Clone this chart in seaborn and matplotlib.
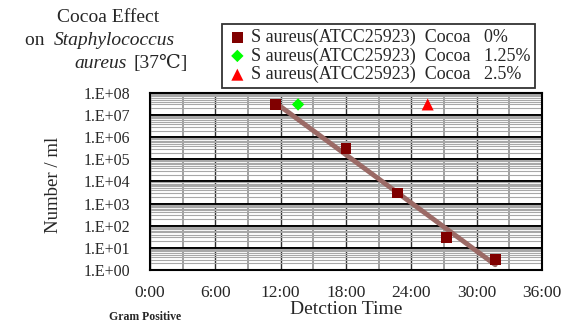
import seaborn as sns
import matplotlib.pyplot as plt
import pandas as pd
import numpy as np
from matplotlib.ticker import FixedLocator, LogLocator, NullFormatter

# detection time (hours) and counts per ml
hours_0 = [11.5, 18.0, 22.7, 27.2, 31.7]
count_0 = [3e7, 3e5, 3e3, 3e1, 3e0]
hours_125 = [13.6]
count_125 = [3e7]
hours_25 = [25.5]
count_25 = [3e7]

labels = ["S aureus(ATCC25923)  Cocoa   0%",
          "S aureus(ATCC25923)  Cocoa   1.25%",
          "S aureus(ATCC25923)  Cocoa   2.5%"]
x_ticks = [0, 6, 12, 18, 24, 30, 36]
x_ticklabels = ["0:00", "6:00", "12:00", "18:00", "24:00", "30:00", "36:00"]
y_ticks = [10.0 ** k for k in range(0, 9)]
y_ticklabels = ["1.E+%02d" % k for k in range(0, 9)]

sns.set_style("white")
plt.rcParams['font.family'] = ['Liberation Serif', 'DejaVu Serif']

fig = plt.figure(figsize=(5.7, 3.27), dpi=100)
ax = fig.add_axes([0.263, 0.174, 0.688, 0.542])
ax.set_yscale("log")

# trend line (exponential fit)
coef = np.polyfit(hours_0, np.log10(count_0), 1)
xs = np.array([hours_0[0], hours_0[-1]])
trend = pd.DataFrame({"x": xs, "y": 10 ** np.polyval(coef, xs)})
sns.lineplot(data=trend, x="x", y="y", ax=ax, color="#9b6a66", lw=3.5, zorder=3)

sns.scatterplot(x=hours_0, y=count_0, ax=ax, marker="s", color="#800000",
                s=60, edgecolor="none", label=labels[0], zorder=4)
sns.scatterplot(x=hours_125, y=count_125, ax=ax, marker="D", color="#00ff00",
                s=40, edgecolor="none", label=labels[1], zorder=4)
sns.scatterplot(x=hours_25, y=count_25, ax=ax, marker="^", color="#ff0000",
                s=75, edgecolor="none", label=labels[2], zorder=4)

ax.set_xlim(0, 36)
ax.set_ylim(1, 1e8)
ax.set_xticks(x_ticks)
ax.set_xticklabels(x_ticklabels, fontsize=12.5)
ax.set_yticks(y_ticks)
ax.set_yticklabels(y_ticklabels, fontsize=11.5)
ax.yaxis.set_minor_locator(LogLocator(base=10, subs=np.arange(2, 10), numticks=100))
ax.yaxis.set_minor_formatter(NullFormatter())
ax.xaxis.set_minor_locator(FixedLocator(np.arange(3, 36, 6)))
ax.tick_params(axis="both", which="both", length=0)
ax.tick_params(axis="y", pad=14)
ax.tick_params(axis="x", pad=11)

ax.grid(True, which="major", axis="y", color="black", lw=1.4)
ax.grid(True, which="minor", axis="y", color="#a8a8a8", lw=0.8)
ax.grid(True, which="major", axis="x", color="#303030", lw=1.0)
ax.grid(True, which="minor", axis="x", color="#909090", lw=1.2)
ax.set_axisbelow(True)
for s in ax.spines.values():
    s.set_color("black")
    s.set_linewidth(1.5)

ax.set_xlabel("Detction Time", fontsize=14, labelpad=0)
ax.set_ylabel("")
fig.text(0.094, 0.434, "Number / ml", rotation=90, fontsize=13.5,
         ha="center", va="center")

leg = ax.legend(loc="lower left", bbox_to_anchor=(222 / 570, 239 / 327),
                bbox_transform=fig.transFigure, fontsize=13, frameon=True,
                fancybox=False, edgecolor="black", handletextpad=0.15,
                borderpad=0.25, labelspacing=0.08, handlelength=1.2,
                borderaxespad=0)
leg.get_frame().set_linewidth(1.3)

# title, in three lines with an italic species name
fig.text(0.189, 0.945, "Cocoa Effect", fontsize=14, ha="center", va="center")
fig.text(0.044, 0.875, "on ", fontsize=14, ha="left", va="center")
fig.text(0.095, 0.875, "Staphylococcus", fontsize=14, ha="left",
         va="center", style="italic")
fig.text(0.222, 0.807, "aureus", fontsize=14, ha="right", va="center",
         style="italic")
fig.text(0.234, 0.807, "[37\u2103]", fontsize=14, ha="left", va="center",
         family=['Liberation Serif', 'DejaVu Serif'])
fig.text(0.254, 0.03, "Gram Positive", fontsize=8.5, fontweight="bold",
         ha="center", va="center")

fig.savefig("out.png", dpi=100)
